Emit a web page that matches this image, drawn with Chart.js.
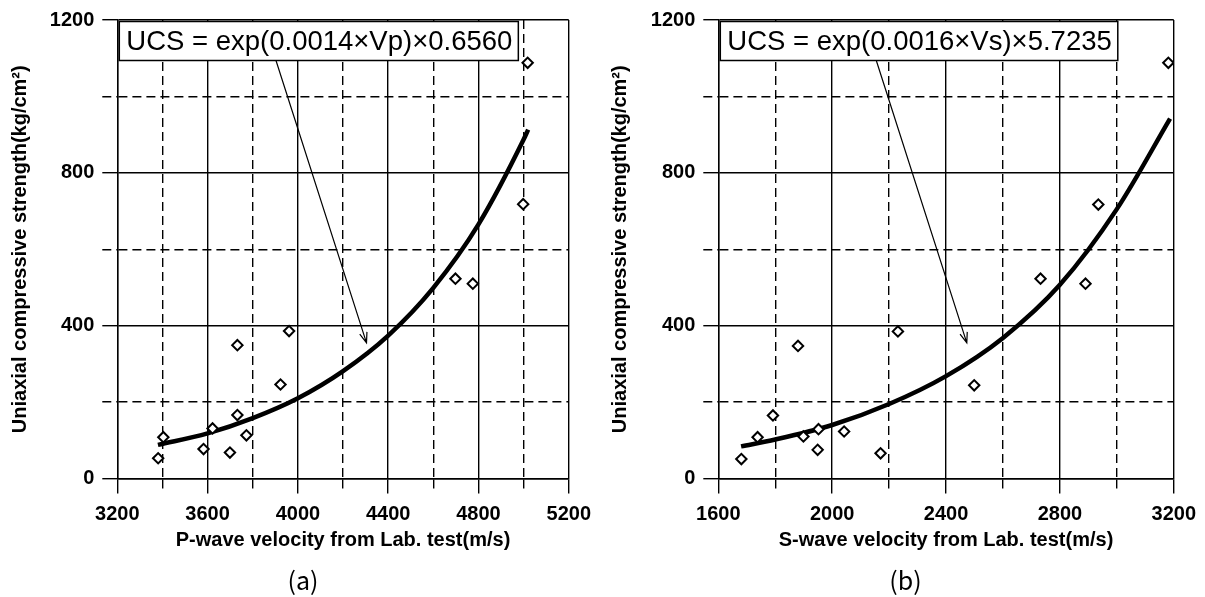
<!DOCTYPE html>
<html>
<head>
<meta charset="utf-8">
<script src="https://cdn.jsdelivr.net/npm/chart.js@4"></script>
<style>
  html, body { margin: 0; padding: 0; background: #fff; }
  body { width: 1205px; height: 597px; position: relative; overflow: hidden; }
  .panel { position: absolute; top: 0; height: 597px; }
  #panelA { left: 0; width: 600px; }
  #panelB { left: 600px; width: 605px; }
  .tag {
    position: absolute; left: 3px; top: 561px; width: 100%;
    text-align: center; line-height: 32px;
    font: 25px "Noto Sans CJK KR", "DejaVu Sans", sans-serif; color: #000;
  }
</style>
</head>
<body>
<div class="panel" id="panelA">
  <canvas id="chartA" width="600" height="597"></canvas>
  <div class="tag">(a)</div>
</div>
<div class="panel" id="panelB">
  <canvas id="chartB" width="605" height="597"></canvas>
  <div class="tag">(b)</div>
</div>
<script>
// (a) P-wave velocity vs UCS
const pVelocity = [3381, 3404, 3582, 3622, 3699, 3732, 3772, 3732, 3923, 3961, 4698, 4775, 4998, 5018];
const pStrength = [53, 108, 77, 131, 68, 166, 113, 349, 246, 386, 523, 510, 718, 1088];
const pFitVelocity = [3380, 3600, 3800, 4000, 4200, 4400, 4600, 4800, 5000, 5020];
const pFitStrength = [88, 118, 158, 210, 281, 374, 499, 665, 887, 913];

// (b) S-wave velocity vs UCS
const sVelocity = [1681, 1738, 1792, 1880, 1899, 1952, 1949, 2042, 2170, 2231, 2499, 2732, 2890, 2935, 3181];
const sStrength = [51, 108, 165, 347, 110, 129, 75, 123, 66, 385, 244, 523, 510, 717, 1088];
const sFitVelocity = [1680, 1800, 2000, 2200, 2400, 2600, 2800, 3000, 3187];
const sFitStrength = [84, 102, 140, 195, 268, 368, 507, 705, 942];

// tick labels (grid every 200, labels every 400)
const pTicks = [3200, 3600, 4000, 4400, 4800, 5200];
const sTicks = [1600, 2000, 2400, 2800, 3200];
const strengthTicks = [0, 400, 800, 1200];

const FONT = '"Liberation Sans", Arial, sans-serif';
const DASH = [9, 5];

const toPoints = (xs, ys) => xs.map((v, i) => ({ x: v, y: ys[i] }));

// equation box + arrow drawn on top of the plot
const equationBox = {
  id: "equationBox",
  afterDatasetsDraw(chart, args, opts) {
    const { ctx, chartArea, scales } = chart;
    const x1 = scales.x.getPixelForValue(opts.arrowFrom[0]);
    const y1 = scales.y.getPixelForValue(opts.arrowFrom[1]);
    const x2 = scales.x.getPixelForValue(opts.arrowTo[0]);
    const y2 = scales.y.getPixelForValue(opts.arrowTo[1]);
    const ang = Math.atan2(y2 - y1, x2 - x1);

    ctx.save();
    ctx.strokeStyle = "#000";
    ctx.lineWidth = 1.2;
    ctx.beginPath();
    ctx.moveTo(x1, y1);
    ctx.lineTo(x2, y2);
    ctx.moveTo(x2 - 11 * Math.cos(ang - 0.35), y2 - 11 * Math.sin(ang - 0.35));
    ctx.lineTo(x2, y2);
    ctx.lineTo(x2 - 11 * Math.cos(ang + 0.35), y2 - 11 * Math.sin(ang + 0.35));
    ctx.stroke();

    ctx.font = "27.5px " + FONT;
    const w = ctx.measureText(opts.text).width + 13;
    const bx = chartArea.left + 2, by = chartArea.top + 1.5, bh = 39;
    ctx.fillStyle = "#fff";
    ctx.fillRect(bx, by, w, bh);
    ctx.lineWidth = 1.5;
    ctx.strokeRect(bx, by, w, bh);
    ctx.fillStyle = "#000";
    ctx.textBaseline = "middle";
    ctx.fillText(opts.text, bx + 7, by + bh / 2 + 1);
    ctx.restore();
  },
};

function buildChart(id, cfg) {
  const ctx = document.getElementById(id).getContext("2d");
  const dashed = (labels) => (c) => (c.tick && !labels.includes(c.tick.value) ? DASH : []);

  return new Chart(ctx, {
    type: "scatter",
    data: {
      datasets: [
        {
          data: toPoints(cfg.xs, cfg.ys),
          pointStyle: "rectRot",
          pointRadius: 5.2,
          pointBorderWidth: 2,
          borderColor: "#000",
          backgroundColor: "#fff",
          order: 0,
        },
        {
          data: toPoints(cfg.fitX, cfg.fitY),
          showLine: true,
          borderColor: "#000",
          borderWidth: 4.5,
          pointRadius: 0,
          cubicInterpolationMode: "monotone",
          order: 1,
        },
      ],
    },
    options: {
      responsive: false,
      animation: false,
      events: [],
      layout: { padding: { top: 19.5, right: cfg.padRight, left: 0, bottom: 0 } },
      plugins: {
        legend: { display: false },
        tooltip: { enabled: false },
        equationBox: { text: cfg.equation, arrowFrom: cfg.arrowFrom, arrowTo: cfg.arrowTo },
      },
      scales: {
        x: {
          type: "linear",
          min: cfg.xMin,
          max: cfg.xMax,
          afterFit: (s) => { s.height = 118.5; },
          ticks: {
            stepSize: 200,
            autoSkip: false,
            maxRotation: 0,
            padding: 9,
            color: "#000",
            font: { family: FONT, size: 20, weight: "bold" },
            callback: (v) => (cfg.xTicks.includes(v) ? v : ""),
          },
          grid: {
            color: "#000",
            lineWidth: 1.4,
            tickLength: 15,
            tickColor: "#000",
            tickBorderDash: dashed(cfg.xTicks),
          },
          border: { display: true, color: "#000", width: 1.4, dash: dashed(cfg.xTicks) },
          title: {
            display: true,
            text: cfg.xTitle,
            color: "#000",
            font: { family: FONT, size: 20, weight: "bold" },
            padding: { top: 0, bottom: 45 },
          },
        },
        y: {
          min: 0,
          max: 1200,
          afterFit: (s) => { s.width = cfg.yWidth; },
          ticks: {
            stepSize: 200,
            padding: 8,
            color: "#000",
            font: { family: FONT, size: 20, weight: "bold" },
            callback: (v) => (strengthTicks.includes(v) ? v : ""),
          },
          grid: {
            color: "#000",
            lineWidth: 1.4,
            tickLength: 15,
            tickColor: "#000",
            tickBorderDash: dashed(strengthTicks),
          },
          border: { display: true, color: "#000", width: 1.4, dash: dashed(strengthTicks) },
          title: {
            display: true,
            text: "Uniaxial compressive strength(kg/cm²)",
            color: "#000",
            font: { family: FONT, size: 20, weight: "bold" },
            padding: { top: 8, bottom: 0 },
          },
        },
      },
    },
    plugins: [equationBox],
  });
}

buildChart("chartA", {
  xs: pVelocity, ys: pStrength, fitX: pFitVelocity, fitY: pFitStrength,
  xMin: 3200, xMax: 5200, xTicks: pTicks,
  xTitle: "P-wave velocity from Lab. test(m/s)",
  equation: "UCS = exp(0.0014×Vp)×0.6560",
  arrowFrom: [3903, 1094], arrowTo: [4304, 355],
  yWidth: 117.3, padRight: 23,
});

buildChart("chartB", {
  xs: sVelocity, ys: sStrength, fitX: sFitVelocity, fitY: sFitStrength,
  xMin: 1600, xMax: 3200, xTicks: sTicks,
  xTitle: "S-wave velocity from Lab. test(m/s)",
  equation: "UCS = exp(0.0016×Vs)×5.7235",
  arrowFrom: [2155, 1094], arrowTo: [2473, 355],
  yWidth: 118.3, padRight: 28,
});
</script>
</body>
</html>
